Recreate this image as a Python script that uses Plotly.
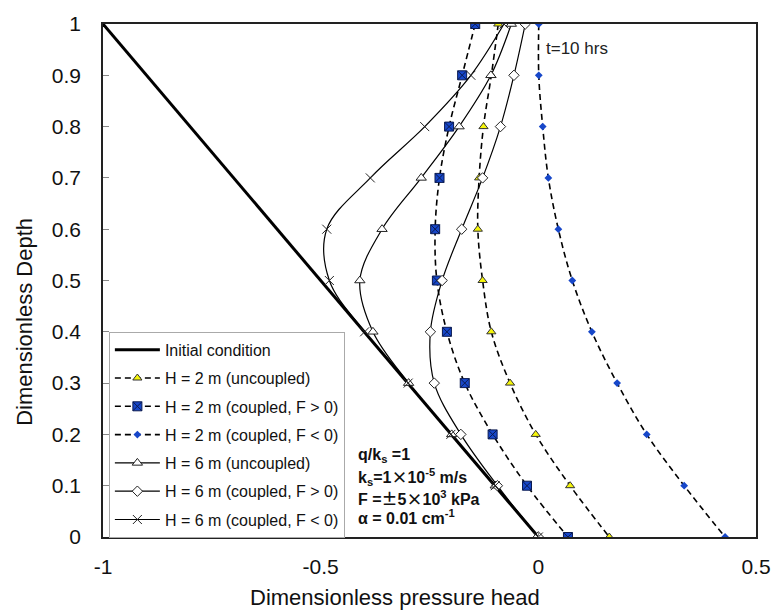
import plotly.graph_objects as go

# Dimensionless depth levels (top = 1, bottom = 0)
depth = [1.0, 0.9, 0.8, 0.7, 0.6, 0.5, 0.4, 0.3, 0.2, 0.1, 0.0]

# Initial hydrostatic condition
init_x = [-1.0, 0.0]
init_y = [1.0, 0.0]

# Dimensionless pressure head at t = 10 hrs
h2_uncoupled = [-0.092, -0.108, -0.126, -0.136, -0.139, -0.128, -0.108, -0.065, -0.006, 0.073, 0.163]
h2_coupled_pos = [-0.145, -0.175, -0.205, -0.227, -0.237, -0.233, -0.210, -0.169, -0.105, -0.026, 0.068]
h2_coupled_neg = [0.001, 0.001, 0.010, 0.023, 0.046, 0.078, 0.123, 0.181, 0.249, 0.335, 0.429]
h6_uncoupled = [-0.062, -0.109, -0.182, -0.269, -0.359, -0.410, -0.380, -0.298, -0.199, -0.099, 0.0]
h6_coupled_pos = [-0.030, -0.056, -0.087, -0.128, -0.176, -0.221, -0.248, -0.239, -0.178, -0.094, 0.0]
h6_coupled_neg = [-0.079, -0.155, -0.261, -0.386, -0.486, -0.480, -0.399, -0.299, -0.201, -0.099, 0.0]

x_ticks = [-1, -0.5, 0, 0.5]
x_ticktext = ["-1", "-0.5", "0", "0.5"]
y_ticks = [0, 0.1, 0.2, 0.3, 0.4, 0.5, 0.6, 0.7, 0.8, 0.9, 1]
y_ticktext = ["0", "0.1", "0.2", "0.3", "0.4", "0.5", "0.6", "0.7", "0.8", "0.9", "1"]

FONT = "Arial, Liberation Sans, sans-serif"
CJK = "Noto Sans CJK SC"
BLUE = "#1747c9"
DASH = "6px,4px"


def wide(ch):
    return f"<span style=\"font-family:'{CJK}'\">{ch}</span>"


fig = go.Figure()

fig.add_trace(go.Scatter(
    x=init_x, y=init_y, mode="lines", name="Initial condition",
    line=dict(color="black", width=3), legendgroup="g0",
))

series = [
    ("H = 2 m (uncoupled)", h2_uncoupled, DASH, 1.6,
     dict(symbol="triangle-up", size=8, color="#f5f50a", line=dict(color="#333", width=1))),
    ("H = 2 m (coupled, F > 0)", h2_coupled_pos, DASH, 1.6,
     dict(symbol="square-x", size=9, color=BLUE, line=dict(color="#0a1a50", width=1))),
    ("H = 2 m (coupled, F < 0)", h2_coupled_neg, DASH, 1.6,
     dict(symbol="diamond", size=6, color=BLUE, line=dict(color=BLUE, width=0))),
    ("H = 6 m (uncoupled)", h6_uncoupled, "solid", 1.2,
     dict(symbol="triangle-up", size=9, color="white", line=dict(color="#222", width=1))),
    ("H = 6 m (coupled, F > 0)", h6_coupled_pos, "solid", 1.2,
     dict(symbol="diamond", size=8, color="white", line=dict(color="#222", width=1))),
    ("H = 6 m (coupled, F < 0)", h6_coupled_neg, "solid", 1.2,
     dict(symbol="x-thin", size=9, color="#222", line=dict(color="#222", width=1))),
]

for i, (name, xs, dash, lw, marker) in enumerate(series, start=1):
    fig.add_trace(go.Scatter(
        x=xs, y=depth, mode="lines+markers", name=name,
        line=dict(color="black", width=lw, dash=dash, shape="spline", smoothing=1),
        marker=marker, legendgroup=f"g{i}",
    ))

fig.add_annotation(x=0.0136, y=0.952, xref="x", yref="y", text="t=10 hrs",
                   showarrow=False, xanchor="left", yanchor="middle",
                   font=dict(family=FONT, size=17, color="#222"))

info_lines = [
    ("q/k<sub>s</sub> =1", 0.158),
    (f"k<sub>s</sub>=1{wide('×')}10<sup>-5</sup> m/s", 0.119),
    (f"F ={wide('±')}5{wide('×')}10<sup>3</sup> kPa", 0.077),
    ("α = 0.01 cm<sup>-1</sup>", 0.0385),
]
for txt, yy in info_lines:
    fig.add_annotation(x=-0.418, y=yy, xref="x", yref="y", text=f"<b>{txt}</b>",
                       showarrow=False, xanchor="left", yanchor="middle",
                       font=dict(family=FONT, size=16, color="#111"))

# Axis titles
fig.add_annotation(x=0.447, y=-0.1175, xref="paper", yref="paper",
                   text="Dimensionless pressure head", showarrow=False,
                   xanchor="center", yanchor="middle",
                   font=dict(family=FONT, size=22, color="#111"))
fig.add_annotation(x=-0.1205, y=0.42, xref="paper", yref="paper",
                   text="Dimensionless Depth", showarrow=False, textangle=-90,
                   xanchor="center", yanchor="middle",
                   font=dict(family=FONT, size=22, color="#111"))

fig.update_layout(
    width=783, height=614,
    margin=dict(l=103, r=16, t=18, b=77),
    paper_bgcolor="white", plot_bgcolor="white",
    font=dict(family=FONT, color="#111"),
    showlegend=True,
    legend=dict(
        x=0.009, y=0.4, xanchor="left", yanchor="top",
        bgcolor="white", bordercolor="#aaaaaa", borderwidth=1,
        font=dict(family=FONT, size=16, color="#111"),
        tracegroupgap=4.5, itemwidth=45,
    ),
    xaxis=dict(
        range=[-1, 0.5], tickvals=x_ticks, ticktext=x_ticktext,
        ticks="inside", ticklen=6, tickcolor="#888", tickwidth=1,
        showline=True, linecolor="#222", linewidth=1.5, mirror=True,
        showgrid=False, zeroline=False,
        tickfont=dict(family=FONT, size=21, color="#111"),
        ticklabelstandoff=10,
    ),
    yaxis=dict(
        range=[0, 1], tickvals=y_ticks, ticktext=y_ticktext,
        ticks="inside", ticklen=6, tickcolor="#888", tickwidth=1,
        showline=True, linecolor="#222", linewidth=1.5, mirror=True,
        showgrid=False, zeroline=False,
        tickfont=dict(family=FONT, size=21, color="#111"),
        ticklabelstandoff=16,
    ),
)

fig.write_html("out.html")
